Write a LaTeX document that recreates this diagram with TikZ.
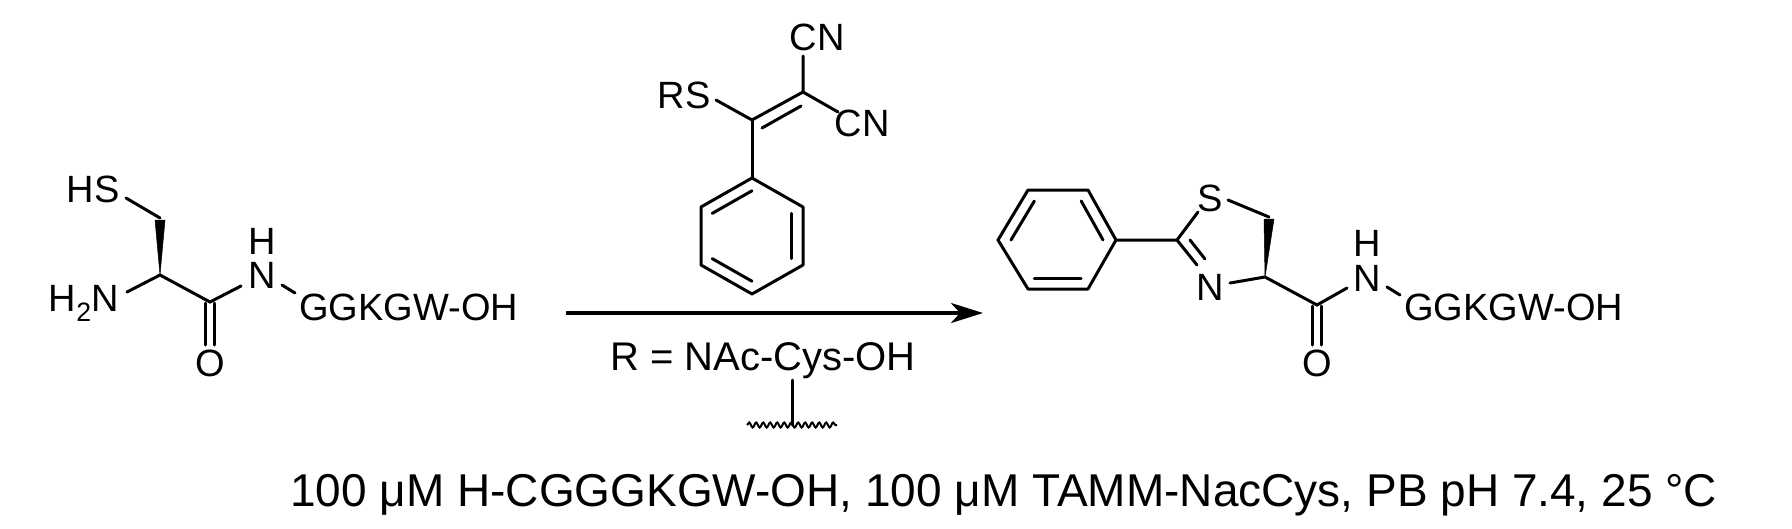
\documentclass[tikz,border=0pt]{standalone}
\usepackage{fontspec}
\setmainfont{Liberation Sans}
\usetikzlibrary{calc,arrows.meta,decorations.pathmorphing}
\begin{document}
\begin{tikzpicture}[x=1pt,y=-1pt,
  bond/.style={line width=3pt,line cap=round},
  lbl/.style={inner sep=0pt,font=\fontsize{38}{44}\selectfont},
  wedgefill/.style={fill=black,draw=black,line width=0.5pt}]
\useasboundingbox (0,0) rectangle (1792,528);
% ---------- left molecule ----------
\node[lbl] (hs) at (93,189) {HS};
\node[lbl] (h2n) at (84,303) {H\textsubscript{2}N};
\node[lbl] (n1) at (262,275) {N};
\node[lbl] (nh1) at (262,241) {H};
\node[lbl] (o1) at (210,363) {O};
\node[lbl,anchor=west] (pep1) at (299,307) {GGKGW-OH};
\coordinate (ch2a) at (160,218);
\coordinate (ca) at (160,275);
\coordinate (co1) at (210,302);
\draw[bond] (126,198) -- (ch2a);
\fill[wedgefill] (ca) -- (155,220) -- (165,220) -- cycle;
\draw[bond] (127,292) -- (ca) -- (co1) -- (241,286);
\draw[bond] (282,285) -- (295,293);
\draw[bond] (205.5,303) -- (205.5,345);
\draw[bond] (214.5,303) -- (214.5,345);
% ---------- arrow ----------
\coordinate (arrS) at (566,313);
\coordinate (arrE) at (983,313);
\draw[line width=3.4pt,-{Stealth[length=32pt,width=20pt,inset=9pt]}] (arrS) -- (arrE);
% ---------- reagent ----------
\node[lbl] (cn1) at (817,37) {CN};
\node[lbl] (cn2) at (862,123) {CN};
\node[lbl] (rs) at (684,95) {RS};
\coordinate (cc) at (803,92);
\coordinate (cv) at (752,120);
\draw[bond] (803,56) -- (cc) -- (838,112);
\draw[bond] (716,100) -- (cv) -- (cc);
\draw[bond] (762,128) -- (801,106);
\coordinate (r1) at (752,178); \coordinate (r2) at (803,207);
\coordinate (r3) at (803,265); \coordinate (r4) at (752,294);
\coordinate (r5) at (701,265); \coordinate (r6) at (701,207);
\coordinate (rc) at (752,236);
\draw[bond] (cv) -- (r1);
\draw[bond,line join=round] (r1)--(r2)--(r3)--(r4)--(r5)--(r6)--cycle;
\draw[bond] ($(rc)!0.78!(r6)$) -- ($(rc)!0.78!(r1)$);
\draw[bond] ($(rc)!0.78!(r2)$) -- ($(rc)!0.78!(r3)$);
\draw[bond] ($(rc)!0.78!(r4)$) -- ($(rc)!0.78!(r5)$);
\node[lbl,font=\fontsize{40}{46}\selectfont] (rdef) at (763,361) {R = NAc-Cys-OH};
\coordinate (wv) at (792,425);
\draw[bond] (792,380) -- (wv);
\draw[line width=2pt,decorate,decoration={snake,amplitude=2.5pt,segment length=7pt}] (747,425) -- (837,425);
% ---------- right molecule ----------
\coordinate (b1) at (998,240); \coordinate (b2) at (1028,190);
\coordinate (b3) at (1088,190); \coordinate (b4) at (1116,240);
\coordinate (b5) at (1088,289); \coordinate (b6) at (1028,289);
\coordinate (bc) at (1057,240);
\draw[bond,line join=round] (b1)--(b2)--(b3)--(b4)--(b5)--(b6)--cycle;
\draw[bond] ($(bc)!0.78!(b1)$) -- ($(bc)!0.78!(b2)$);
\draw[bond] ($(bc)!0.78!(b3)$) -- ($(bc)!0.78!(b4)$);
\draw[bond] ($(bc)!0.78!(b5)$) -- ($(bc)!0.78!(b6)$);
\coordinate (c2) at (1177,240);
\node[lbl] (s2) at (1210,198) {S};
\node[lbl] (n3) at (1210,287) {N};
\coordinate (ch2b) at (1269,217);
\coordinate (c4) at (1265,277);
\coordinate (co2) at (1317,305);
\draw[bond] (b4) -- (c2) -- (1198,212);
\draw[bond] (1228,200) -- (ch2b);
\draw[bond] (c2) -- (1197,265);
\draw[bond] (1190,240) -- (1205,259);
\fill[wedgefill] (c4) -- (1264,219) -- (1274,219) -- cycle;
\draw[bond] (1230,283) -- (c4) -- (co2) -- (1347,288);
\node[lbl] (n4) at (1367,278) {N};
\node[lbl] (nh4) at (1367,243) {H};
\draw[bond] (1387,287) -- (1400,295);
\node[lbl,anchor=west] (pep2) at (1404,307) {GGKGW-OH};
\draw[bond] (1312.5,306) -- (1312.5,345);
\draw[bond] (1321.5,306) -- (1321.5,345);
\node[lbl] (o2) at (1317,363) {O};
% ---------- conditions ----------
\node[lbl,anchor=west,font=\fontsize{46}{52}\selectfont] (cond) at (290,495) {100 μM H-CGGGKGW-OH, 100 μM TAMM-NacCys, PB pH 7.4, 25 °C};
\end{tikzpicture}
\end{document}
